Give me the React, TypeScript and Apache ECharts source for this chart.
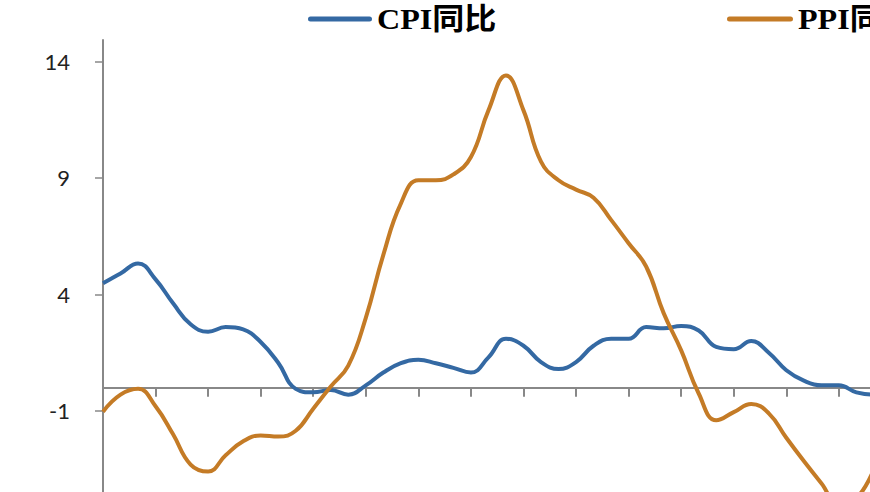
import React, { useEffect, useRef } from "react";
import * as echarts from "echarts";

const months = [
  "2019-11", "2019-12",
  "2020-01", "2020-02", "2020-03", "2020-04", "2020-05", "2020-06",
  "2020-07", "2020-08", "2020-09", "2020-10", "2020-11", "2020-12",
  "2021-01", "2021-02", "2021-03", "2021-04", "2021-05", "2021-06",
  "2021-07", "2021-08", "2021-09", "2021-10", "2021-11", "2021-12",
  "2022-01", "2022-02", "2022-03", "2022-04", "2022-05", "2022-06",
  "2022-07", "2022-08", "2022-09", "2022-10", "2022-11", "2022-12",
  "2023-01", "2023-02", "2023-03", "2023-04", "2023-05", "2023-06",
  "2023-07",
];

const cpiYoY = [
  4.48, 4.9, 5.33, 4.65, 3.62, 2.72, 2.4, 2.6, 2.5, 1.96, 1.07, -0.05,
  -0.2, -0.1, -0.3, 0.1, 0.65, 1.05, 1.2, 1.05, 0.85, 0.65, 1.3, 2.1,
  1.8, 1.1, 0.8, 1.1, 1.8, 2.1, 2.1, 2.6, 2.55, 2.65, 2.45, 1.75, 1.65,
  2.0, 1.5, 0.75, 0.3, 0.1, 0.1, -0.2, -0.3,
];

const ppiYoY = [
  -1.03, -0.3, -0.05, -0.8, -2.0, -3.3, -3.6, -2.9, -2.3, -2.05, -2.1,
  -1.85, -0.9, 0.05, 0.95, 3.0, 5.7, 7.9, 8.9, 8.9, 9.15, 9.9, 11.9,
  13.4, 11.9, 9.7, 8.9, 8.5, 8.15, 7.2, 6.2, 5.2, 3.2, 1.6, -0.25, -1.4,
  -1.05, -0.7, -1.1, -2.15, -3.15, -4.1, -5.0, -4.75, -3.5,
];

const yTickValues = [-1, 4, 9, 14];
const seriesNames = ["CPI同比", "PPI同比"];

const CPI_COLOR = "#3469a3";
const PPI_COLOR = "#c47b26";
const AXIS_COLOR = "#888888";

export default function App() {
  const ref = useRef<HTMLDivElement>(null);

  useEffect(() => {
    if (!ref.current) return;
    const chart = echarts.init(ref.current, null, { renderer: "svg" });
    const legendFont = {
      fontFamily: "'Liberation Serif', 'Noto Sans CJK SC', serif",
      fontWeight: "bold",
      fontSize: 30,
      fill: "#000",
      align: "left",
      verticalAlign: "middle",
    };
    const legendItem = (x: number, w: number, color: string, name: string) => ({
      type: "group",
      children: [
        {
          type: "rect",
          shape: { x, y: 16.5, width: w, height: 5, r: 2.5 },
          style: { fill: color },
        },
        {
          type: "text",
          x: x + w + 5,
          y: 19,
          scaleX: 1.07,
          style: { ...legendFont, text: name },
        },
      ],
    });
    chart.setOption({
      animation: false,
      backgroundColor: "#ffffff",
      graphic: [
        legendItem(308, 64, CPI_COLOR, seriesNames[0]),
        legendItem(727, 66, PPI_COLOR, seriesNames[1]),
      ],
      grid: {
        left: 103,
        right: 26.1,
        top: 40,
        bottom: 32.5,
        containLabel: false,
        outerBoundsMode: "none",
      },
      xAxis: {
        type: "category",
        data: months,
        boundaryGap: false,
        axisLine: { onZero: true, lineStyle: { color: AXIS_COLOR, width: 2 } },
        axisTick: { show: true, interval: 2, length: 9, lineStyle: { color: AXIS_COLOR, width: 2 } },
        axisLabel: { show: false },
        splitLine: { show: false },
      },
      yAxis: {
        type: "value",
        min: -6,
        max: 14.92,
        axisLine: { show: true, lineStyle: { color: AXIS_COLOR, width: 2 } },
        axisTick: {
          show: true,
          length: 8,
          customValues: yTickValues,
          lineStyle: { color: AXIS_COLOR, width: 1.5 },
        },
        axisLabel: {
          customValues: yTickValues,
          margin: 33,
          fontFamily: "Lato, 'Open Sans', sans-serif",
          fontSize: 22,
          color: "#222",
        },
        splitLine: { show: false },
      },
      series: [
        {
          name: seriesNames[0],
          type: "line",
          data: cpiYoY,
          smooth: 0.45,
          symbol: "none",
          lineStyle: { color: CPI_COLOR, width: 4 },
          itemStyle: { color: CPI_COLOR },
        },
        {
          name: seriesNames[1],
          type: "line",
          data: ppiYoY,
          smooth: 0.45,
          symbol: "none",
          lineStyle: { color: PPI_COLOR, width: 4 },
          itemStyle: { color: PPI_COLOR },
        },
      ],
    });
    return () => chart.dispose();
  }, []);

  return (
    <div
      ref={ref}
      style={{ position: "fixed", left: 0, top: 0, width: 900, height: 560, background: "#fff" }}
    />
  );
}
